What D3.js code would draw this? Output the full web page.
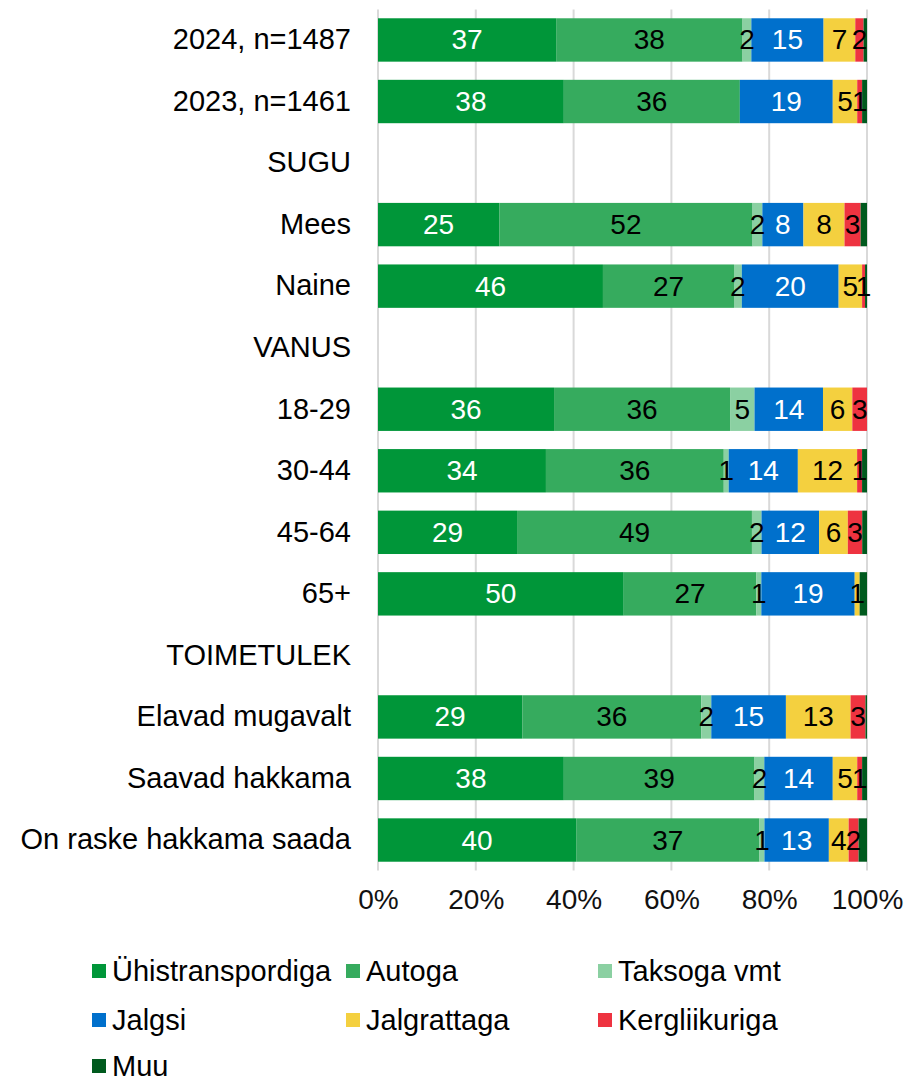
<!DOCTYPE html>
<html><head><meta charset="utf-8">
<script src="https://cdn.jsdelivr.net/npm/d3@7"></script>
<style>body{margin:0;background:#fff}svg{display:block;font-family:Arial,"Liberation Sans",sans-serif}</style>
</head><body><svg id="c" width="905" height="1082"></svg>
<script>
const categories = ["2024, n=1487","2023, n=1461","SUGU","Mees","Naine","VANUS","18-29","30-44","45-64","65+","TOIMETULEK","Elavad mugavalt","Saavad hakkama","On raske hakkama saada"];
const seriesNames = ["Ühistranspordiga","Autoga","Taksoga vmt","Jalgsi","Jalgrattaga","Kergliikuriga","Muu"];
const seriesColors = ["#009639","#36ab5e","#8bd0a2","#0070cc","#f4d03f","#ee3340","#005a1e"];
const labelColors = ["#fff","#000","#000","#fff","#000","#000","#fff"];
// values per series, aligned with categories (null = header row without bar)
const uhis   = [36.5,38,null,24.8,46.0,null,36,34,29,50,null,29,38,40];
const autoga = [38.2,36,null,51.8,26.8,null,36,36,49,27,null,36,39,37];
const takso  = [1.8,0,null,2.0,1.6,null,5,1,2,1,null,2,2,1];
const jalgsi = [14.8,19,null,8.4,19.8,null,14,14,12,19,null,15,14,13];
const jalgr  = [6.5,5,null,8.4,4.8,null,6,12,6,1,null,13,5,4];
const kergl  = [1.7,1,null,3.3,0.6,null,3,1,3,0,null,3,1,2];
const muu    = [0.7,1,null,1.3,0.4,null,0,1,1,1.5,null,0.3,1,1.7];
const showLabel = [true,true,true,true,true,true,false];
const tickLabels = ["0%","20%","40%","60%","80%","100%"];
const tickValues = [0,0.2,0.4,0.6,0.8,1];

const seriesValues = [uhis,autoga,takso,jalgsi,jalgr,kergl,muu];
const rows = categories.map((c,i)=>{
  const o = {cat:c, header: uhis[i]===null};
  seriesNames.forEach((s,j)=>{ o[s] = seriesValues[j][i] ?? 0; });
  return o;
});

const svg = d3.select("#c");
const x = d3.scaleLinear().domain([0,1]).range([378,867]);
const y = d3.scaleBand().domain(categories).range([9.2,870.8]).paddingInner(0.295).paddingOuter(0.1475);

// gridlines
svg.append("g").selectAll("line").data(tickValues).join("line")
  .attr("x1",d=>x(d)).attr("x2",d=>x(d)).attr("y1",9.5).attr("y2",870.5)
  .attr("stroke","#d9d9d9").attr("stroke-width",2);

const barRows = rows.filter(r=>!r.header);
const stack = d3.stack().keys(seriesNames).offset(d3.stackOffsetExpand);
const stacked = stack(barRows);

const g = svg.append("g");
stacked.forEach((layer,si)=>{
  const lg = g.append("g");
  lg.selectAll("rect").data(layer).join("rect")
    .attr("x",d=>x(d[0])).attr("width",d=>Math.max(0,x(d[1])-x(d[0])))
    .attr("y",d=>y(d.data.cat)).attr("height",y.bandwidth())
    .attr("fill",seriesColors[si]);
});
stacked.forEach((layer,si)=>{
  if(!showLabel[si]) return;
  g.append("g").selectAll("text").data(layer.filter(d=>d.data[seriesNames[si]]>0)).join("text")
    .attr("x",d=>(x(d[0])+x(d[1]))/2).attr("y",d=>y(d.data.cat)+y.bandwidth()/2)
    .attr("text-anchor","middle").attr("dominant-baseline","central")
    .attr("font-size",28).attr("fill",labelColors[si])
    .text(d=>d3.format(".0f")(d.data[seriesNames[si]]));
});

// category labels
const yAxis = d3.axisLeft(y).tickSize(0).tickPadding(0);
const ya = svg.append("g").attr("transform","translate(351,0)").call(yAxis);
ya.select(".domain").remove();
ya.selectAll("text").attr("font-size",29).attr("fill","#000").attr("font-family","Arial,'Liberation Sans',sans-serif");

// x axis
const xAxis = d3.axisBottom(x).tickValues(tickValues).tickFormat((d,i)=>tickLabels[i]).tickSize(0).tickPadding(0);
const xa = svg.append("g").attr("transform","translate(0,889)").call(xAxis);
xa.select(".domain").remove();
xa.selectAll("text").attr("font-size",28).attr("fill","#111").attr("font-family","Arial,'Liberation Sans',sans-serif");

// legend
const legPos = [[92,971],[346,971],[598,971],[92,1020],[346,1020],[598,1020],[92,1066]];
const lg = svg.append("g");
seriesNames.forEach((s,i)=>{
  const [lx,ly] = legPos[i];
  lg.append("rect").attr("x",lx).attr("y",ly-7).attr("width",14).attr("height",14).attr("fill",seriesColors[i]);
  lg.append("text").attr("x",lx+20).attr("y",ly).attr("dominant-baseline","central")
    .attr("font-size",29).attr("fill","#000").text(s);
});
</script></body></html>
